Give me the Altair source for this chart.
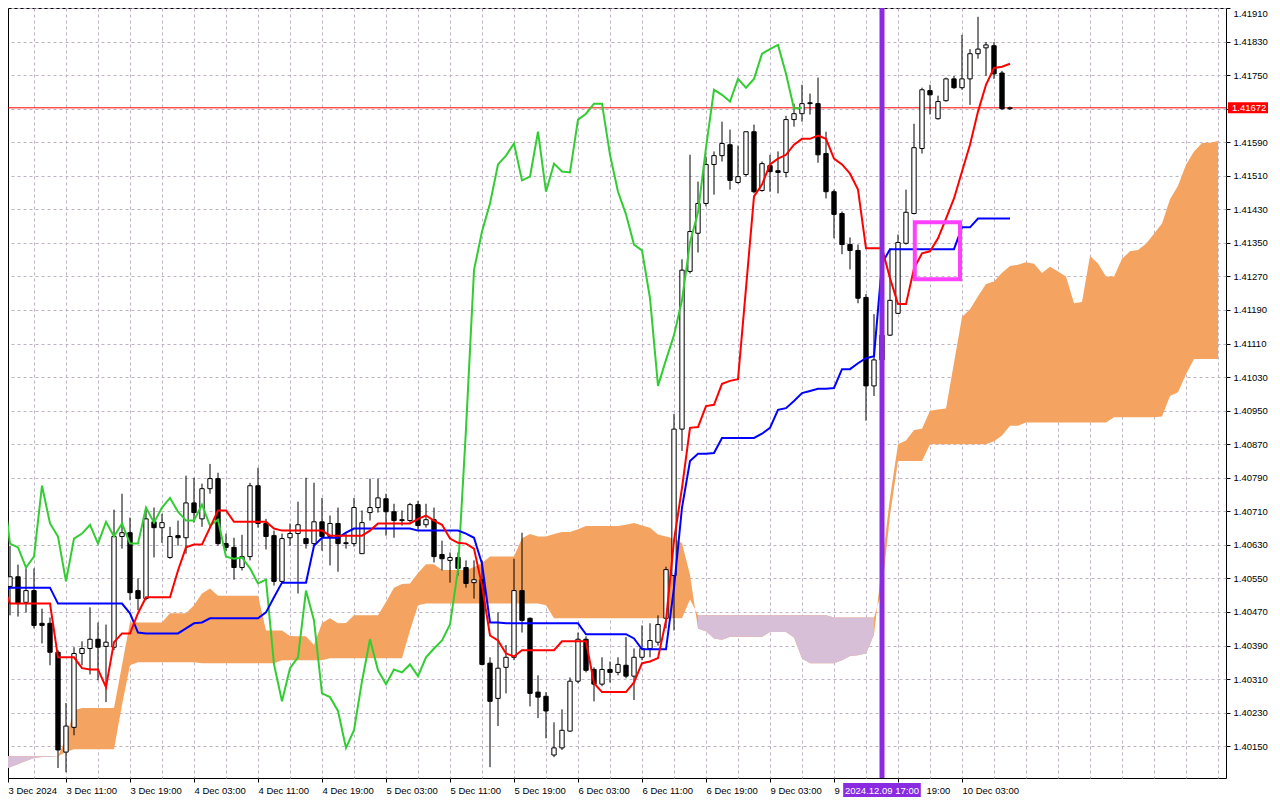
import json
import altair as alt
import pandas as pd

# ---------------- data (hourly candles, bar 0 = 3 Dec 2024 03:00) ----------------
open_ = [1.40474, 1.40531, 1.40554, 1.40493, 1.40521, 1.40443, 1.40443, 1.40374, 1.40136, 1.40195,
         1.40371, 1.40383, 1.40405, 1.40388, 1.40386, 1.40650, 1.40659, 1.40521, 1.40502, 1.40685,
         1.40671, 1.40600, 1.40652, 1.40647, 1.40730, 1.40692, 1.40764, 1.40788, 1.40633, 1.40624,
         1.40576, 1.40602, 1.40771, 1.40681, 1.40652, 1.40543, 1.40647, 1.40657, 1.40645, 1.40633,
         1.40685, 1.40650, 1.40681, 1.40635, 1.40633, 1.40609, 1.40707, 1.40719, 1.40740, 1.40709,
         1.40690, 1.40688, 1.40726, 1.40678, 1.40690, 1.40607, 1.40593, 1.40600, 1.40576, 1.40540,
         1.40547, 1.40348, 1.40264, 1.40338, 1.40362, 1.40521, 1.40455, 1.40279, 1.40269, 1.40129,
         1.40146, 1.40186, 1.40305, 1.40405, 1.40333, 1.40298, 1.40333, 1.40326, 1.40343, 1.40317,
         1.40362, 1.40383, 1.40398, 1.40455, 1.40557, 1.40906, 1.41282, 1.41373, 1.41444, 1.41537,
         1.41558, 1.41584, 1.41494, 1.41513, 1.41615, 1.41475, 1.41534, 1.41522, 1.41518, 1.41644,
         1.41658, 1.41684, 1.41682, 1.41563, 1.41472, 1.41420, 1.41346, 1.41332, 1.41220, 1.41009,
         1.41071, 1.41130, 1.41182, 1.41349, 1.41420, 1.41575, 1.41713, 1.41646, 1.41689, 1.41741,
         1.41720, 1.41741, 1.41801, 1.41815, 1.41820, 1.41755, 1.41670]

high = [1.40533, 1.40628, 1.40583, 1.40574, 1.40574, 1.40478, 1.40457, 1.40379, 1.40253, 1.40386,
        1.40400, 1.40481, 1.40445, 1.40440, 1.40714, 1.40752, 1.40695, 1.40550, 1.40719, 1.40719,
        1.40704, 1.40673, 1.40688, 1.40795, 1.40790, 1.40776, 1.40823, 1.40802, 1.40657, 1.40647,
        1.40654, 1.40778, 1.40814, 1.40692, 1.40664, 1.40657, 1.40681, 1.40733, 1.40790, 1.40778,
        1.40742, 1.40700, 1.40719, 1.40657, 1.40742, 1.40712, 1.40788, 1.40788, 1.40752, 1.40728,
        1.40712, 1.40730, 1.40735, 1.40728, 1.40719, 1.40640, 1.40612, 1.40612, 1.40593, 1.40593,
        1.40593, 1.40362, 1.40469, 1.40391, 1.40597, 1.40659, 1.40457, 1.40319, 1.40279, 1.40207,
        1.40238, 1.40314, 1.40421, 1.40412, 1.40338, 1.40362, 1.40352, 1.40362, 1.40410, 1.40383,
        1.40438, 1.40443, 1.40462, 1.40578, 1.40942, 1.41311, 1.41560, 1.41496, 1.41556, 1.41568,
        1.41639, 1.41620, 1.41582, 1.41615, 1.41632, 1.41544, 1.41560, 1.41568, 1.41653, 1.41682,
        1.41727, 1.41706, 1.41744, 1.41615, 1.41477, 1.41425, 1.41363, 1.41346, 1.41228, 1.41180,
        1.41140, 1.41337, 1.41370, 1.41477, 1.41634, 1.41720, 1.41727, 1.41701, 1.41744, 1.41748,
        1.41846, 1.41812, 1.41889, 1.41829, 1.41829, 1.41760, 1.41675]

low = [1.40462, 1.40462, 1.40459, 1.40469, 1.40431, 1.40395, 1.40343, 1.40098, 1.40088, 1.40176,
       1.40343, 1.40321, 1.40307, 1.40255, 1.40379, 1.40621, 1.40498, 1.40474, 1.40498, 1.40600,
       1.40635, 1.40597, 1.40628, 1.40609, 1.40683, 1.40673, 1.40752, 1.40628, 1.40616, 1.40547,
       1.40569, 1.40593, 1.40671, 1.40619, 1.40533, 1.40538, 1.40628, 1.40514, 1.40621, 1.40628,
       1.40616, 1.40581, 1.40566, 1.40621, 1.40626, 1.40609, 1.40688, 1.40707, 1.40652, 1.40647,
       1.40676, 1.40683, 1.40664, 1.40671, 1.40588, 1.40569, 1.40540, 1.40557, 1.40528, 1.40502,
       1.40343, 1.40100, 1.40198, 1.40276, 1.40355, 1.40421, 1.40245, 1.40217, 1.40169, 1.40124,
       1.40141, 1.40184, 1.40300, 1.40326, 1.40257, 1.40293, 1.40302, 1.40319, 1.40312, 1.40260,
       1.40355, 1.40362, 1.40390, 1.40431, 1.40426, 1.40854, 1.41277, 1.41327, 1.41437, 1.41465,
       1.41544, 1.41477, 1.41491, 1.41508, 1.41468, 1.41472, 1.41472, 1.41468, 1.41506, 1.41627,
       1.41639, 1.41656, 1.41541, 1.41456, 1.41361, 1.41323, 1.41287, 1.41206, 1.40926, 1.40985,
       1.41056, 1.41128, 1.41182, 1.41346, 1.41418, 1.41563, 1.41656, 1.41644, 1.41687, 1.41717,
       1.41715, 1.41679, 1.41789, 1.41748, 1.41741, 1.41667, 1.41667]

close = [1.40514, 1.40554, 1.40490, 1.40521, 1.40438, 1.40438, 1.40374, 1.40141, 1.40198, 1.40371,
         1.40383, 1.40405, 1.40386, 1.40398, 1.40650, 1.40659, 1.40516, 1.40502, 1.40692, 1.40671,
         1.40683, 1.40650, 1.40647, 1.40730, 1.40707, 1.40764, 1.40788, 1.40633, 1.40624, 1.40576,
         1.40602, 1.40771, 1.40681, 1.40650, 1.40543, 1.40645, 1.40657, 1.40678, 1.40633, 1.40685,
         1.40650, 1.40681, 1.40633, 1.40633, 1.40719, 1.40683, 1.40719, 1.40742, 1.40709, 1.40688,
         1.40688, 1.40726, 1.40676, 1.40690, 1.40602, 1.40597, 1.40600, 1.40574, 1.40538, 1.40547,
         1.40345, 1.40257, 1.40336, 1.40362, 1.40521, 1.40450, 1.40276, 1.40267, 1.40234, 1.40146,
         1.40188, 1.40305, 1.40405, 1.40331, 1.40298, 1.40333, 1.40326, 1.40345, 1.40317, 1.40362,
         1.40383, 1.40402, 1.40440, 1.40571, 1.40906, 1.41285, 1.41377, 1.41444, 1.41537, 1.41558,
         1.41587, 1.41499, 1.41508, 1.41615, 1.41472, 1.41539, 1.41520, 1.41518, 1.41644, 1.41658,
         1.41682, 1.41682, 1.41560, 1.41472, 1.41418, 1.41346, 1.41332, 1.41218, 1.41009, 1.41071,
         1.41130, 1.41213, 1.41351, 1.41423, 1.41577, 1.41715, 1.41703, 1.41687, 1.41741, 1.41720,
         1.41741, 1.41801, 1.41812, 1.41822, 1.41753, 1.41670, 1.41672]

tenkan = [1.40538, 1.40490, 1.40490, 1.40490, 1.40490, 1.40490, 1.40490, 1.40362, 1.40362, 1.40362,
          1.40336, 1.40333, 1.40333, 1.40291, 1.40398, 1.40419, 1.40419, 1.40467, 1.40505, 1.40505,
          1.40505, 1.40505, 1.40569, 1.40624, 1.40631, 1.40631, 1.40671, 1.40712, 1.40712, 1.40685,
          1.40685, 1.40685, 1.40685, 1.40685, 1.40669, 1.40664, 1.40664, 1.40664, 1.40664, 1.40664,
          1.40664, 1.40652, 1.40652, 1.40652, 1.40652, 1.40652, 1.40664, 1.40681, 1.40681, 1.40681,
          1.40681, 1.40681, 1.40692, 1.40700, 1.40688, 1.40678, 1.40645, 1.40635, 1.40633, 1.40621,
          1.40533, 1.40414, 1.40402, 1.40371, 1.40364, 1.40379, 1.40379, 1.40379, 1.40379, 1.40379,
          1.40400, 1.40400, 1.40400, 1.40400, 1.40300, 1.40279, 1.40279, 1.40279, 1.40279, 1.40302,
          1.40348, 1.40352, 1.40360, 1.40450, 1.40640, 1.40766, 1.40909, 1.40911, 1.40961, 1.40964,
          1.41014, 1.41021, 1.41025, 1.41242, 1.41461, 1.41489, 1.41537, 1.41551, 1.41560, 1.41584,
          1.41598, 1.41598, 1.41606, 1.41598, 1.41551, 1.41537, 1.41515, 1.41477, 1.41337, 1.41337,
          1.41337, 1.41266, 1.41204, 1.41204, 1.41289, 1.41325, 1.41330, 1.41361, 1.41408, 1.41456,
          1.41520, 1.41584, 1.41663, 1.41727, 1.41767, 1.41770, 1.41777]

kijun = [1.40514, 1.40528, 1.40528, 1.40528, 1.40528, 1.40528, 1.40528, 1.40490, 1.40490, 1.40490,
         1.40490, 1.40490, 1.40490, 1.40490, 1.40490, 1.40490, 1.40467, 1.40421, 1.40419, 1.40419,
         1.40419, 1.40419, 1.40419, 1.40431, 1.40443, 1.40445, 1.40455, 1.40455, 1.40455, 1.40455,
         1.40455, 1.40455, 1.40455, 1.40469, 1.40505, 1.40540, 1.40540, 1.40540, 1.40540, 1.40628,
         1.40647, 1.40647, 1.40647, 1.40659, 1.40669, 1.40669, 1.40669, 1.40669, 1.40669, 1.40669,
         1.40669, 1.40669, 1.40664, 1.40664, 1.40664, 1.40664, 1.40664, 1.40664, 1.40657, 1.40647,
         1.40585, 1.40445, 1.40445, 1.40443, 1.40443, 1.40443, 1.40443, 1.40443, 1.40443, 1.40443,
         1.40443, 1.40443, 1.40443, 1.40417, 1.40417, 1.40417, 1.40417, 1.40417, 1.40417, 1.40407,
         1.40381, 1.40381, 1.40381, 1.40381, 1.40528, 1.40719, 1.40830, 1.40847, 1.40847, 1.40849,
         1.40885, 1.40885, 1.40885, 1.40885, 1.40885, 1.40895, 1.40909, 1.40952, 1.40956, 1.40973,
         1.40992, 1.40997, 1.41002, 1.41002, 1.41004, 1.41049, 1.41049, 1.41063, 1.41075, 1.41080,
         1.41301, 1.41335, 1.41335, 1.41335, 1.41335, 1.41335, 1.41335, 1.41335, 1.41335, 1.41335,
         1.41387, 1.41387, 1.41408, 1.41408, 1.41408, 1.41408, 1.41408]

# Senkou span A / B as drawn (already displaced 26 bars ahead)
span_a = [1.40093, 1.40100, 1.40107, 1.40115, 1.40122, 1.40124, 1.40124, 1.40126, 1.40169, 1.40236,
          1.40241, 1.40241, 1.40241, 1.40241, 1.40241, 1.40343, 1.40445, 1.40445, 1.40445, 1.40445,
          1.40445, 1.40467, 1.40467, 1.40467, 1.40486, 1.40514, 1.40526, 1.40509, 1.40509, 1.40509,
          1.40509, 1.40509, 1.40509, 1.40426, 1.40426, 1.40426, 1.40413, 1.40412, 1.40412, 1.40391,
          1.40444, 1.40455, 1.40443, 1.40444, 1.40462, 1.40462, 1.40462, 1.40462, 1.40494, 1.40528,
          1.40537, 1.40538, 1.40563, 1.40584, 1.40584, 1.40570, 1.40570, 1.40570, 1.40570, 1.40577,
          1.40587, 1.40602, 1.40602, 1.40602, 1.40602, 1.40646, 1.40656, 1.40650, 1.40650, 1.40656,
          1.40661, 1.40661, 1.40667, 1.40675, 1.40675, 1.40675, 1.40675, 1.40675, 1.40678, 1.40682,
          1.40676, 1.40671, 1.40655, 1.40650, 1.40645, 1.40634, 1.40559, 1.40430, 1.40424, 1.40407,
          1.40404, 1.40411, 1.40411, 1.40411, 1.40411, 1.40411, 1.40422, 1.40422, 1.40422, 1.40409,
          1.40359, 1.40348, 1.40348, 1.40348, 1.40348, 1.40355, 1.40365, 1.40367, 1.40371, 1.40416,
          1.40584, 1.40743, 1.40870, 1.40879, 1.40904, 1.40907, 1.40950, 1.40953, 1.40955, 1.41064,
          1.41173, 1.41192, 1.41223, 1.41252, 1.41258, 1.41279, 1.41295, 1.41298, 1.41304, 1.41300,
          1.41278, 1.41293, 1.41282, 1.41270, 1.41206, 1.41209, 1.41319, 1.41301, 1.41270, 1.41270,
          1.41312, 1.41330, 1.41333, 1.41348, 1.41372, 1.41396, 1.41454, 1.41486, 1.41536, 1.41568,
          1.41588, 1.41589, 1.41593]

span_b = [1.40126, 1.40126, 1.40126, 1.40126, 1.40126, 1.40126, 1.40126, 1.40126, 1.40136, 1.40143,
          1.40143, 1.40143, 1.40143, 1.40143, 1.40143, 1.40248, 1.40343, 1.40350, 1.40350, 1.40350,
          1.40350, 1.40350, 1.40350, 1.40350, 1.40350, 1.40348, 1.40348, 1.40348, 1.40348, 1.40348,
          1.40348, 1.40348, 1.40348, 1.40348, 1.40348, 1.40355, 1.40355, 1.40355, 1.40355, 1.40355,
          1.40355, 1.40360, 1.40360, 1.40360, 1.40360, 1.40360, 1.40360, 1.40360, 1.40360, 1.40360,
          1.40360, 1.40426, 1.40486, 1.40490, 1.40490, 1.40490, 1.40490, 1.40490, 1.40490, 1.40490,
          1.40490, 1.40490, 1.40490, 1.40490, 1.40490, 1.40490, 1.40490, 1.40490, 1.40486, 1.40455,
          1.40455, 1.40455, 1.40455, 1.40455, 1.40455, 1.40455, 1.40455, 1.40455, 1.40455, 1.40455,
          1.40455, 1.40455, 1.40455, 1.40455, 1.40455, 1.40455, 1.40500, 1.40462, 1.40462, 1.40462,
          1.40462, 1.40462, 1.40462, 1.40462, 1.40462, 1.40462, 1.40462, 1.40462, 1.40462, 1.40462,
          1.40462, 1.40462, 1.40462, 1.40462, 1.40457, 1.40457, 1.40457, 1.40457, 1.40457, 1.40457,
          1.40521, 1.40700, 1.40830, 1.40830, 1.40830, 1.40830, 1.40870, 1.40870, 1.40870, 1.40870,
          1.40870, 1.40870, 1.40870, 1.40870, 1.40877, 1.40891, 1.40914, 1.40914, 1.40922, 1.40922,
          1.40922, 1.40922, 1.40922, 1.40922, 1.40922, 1.40922, 1.40922, 1.40922, 1.40922, 1.40934,
          1.40934, 1.40934, 1.40934, 1.40934, 1.40934, 1.40936, 1.40985, 1.40994, 1.41037, 1.41073,
          1.41073, 1.41073, 1.41073]

y_ticks = [1.40150, 1.40230, 1.40310, 1.40390, 1.40470, 1.40550, 1.40630, 1.40710, 1.40790,
           1.40870, 1.40950, 1.41030, 1.41110, 1.41190, 1.41270, 1.41350, 1.41430, 1.41510,
           1.41590, 1.41670, 1.41750, 1.41830, 1.41910]

# time-axis labels every 8 bars; the two next to the marker show only what the marker leaves visible
x_labels = ["3 Dec 2024", "3 Dec 11:00", "3 Dec 19:00", "4 Dec 03:00", "4 Dec 11:00",
            "4 Dec 19:00", "5 Dec 03:00", "5 Dec 11:00", "5 Dec 19:00", "6 Dec 03:00",
            "6 Dec 11:00", "6 Dec 19:00", "9 Dec 03:00", "9", "19:00",
            "10 Dec 03:00"]

kumo_shift = 26
current_price = 1.41672
marker_bar = 110
marker_label = "2024.12.09 17:00"
highlight = {"i0": 114.1, "i1": 119.75, "p0": 1.41263, "p1": 1.41399}

# ---------------- styling ----------------
FONT = "Liberation Sans"
FS = 9.5
GRID = "#bdb3c4"
ORANGE = "#f4a460"
LILAC = "#d8bfd8"
PURPLE = "#8a2be2"
MAGENTA = "#ff40ff"
W, H = 1218, 770

# ---------------- frames ----------------
n = len(close)
candles = pd.DataFrame({"i": list(range(n)), "open": open_, "high": high, "low": low, "close": close})
candles["top"] = candles[["open", "close"]].max(axis=1)
candles["bot"] = candles[["open", "close"]].min(axis=1)
candles["bull"] = candles["close"] > candles["open"]
half_body = 0.27
candles["x0"] = candles["i"] - half_body
candles["x1"] = candles["i"] + half_body

lines = pd.DataFrame({"i": list(range(n)), "tenkan": tenkan, "kijun": kijun})
chik = pd.DataFrame({"i": [k - kumo_shift for k in range(kumo_shift, n)],
                     "chikou": close[kumo_shift:]})

cloud = pd.DataFrame({"i": list(range(len(span_a))), "a": span_a, "b": span_b})
bear = cloud["b"] >= cloud["a"]
cloud["run"] = (bear != bear.shift()).cumsum()
lilac = cloud[bear]

# ---------------- scales & axes ----------------
xs = alt.Scale(domain=[0.75, 153.0], nice=False, zero=False)
ys = alt.Scale(domain=[1.400742, 1.41910], nice=False, zero=False)

step = 8
last_lab = step * (len(x_labels) - 1)
labs = json.dumps(x_labels)
grid_vals = [0.75] + list(range(4, 153, 4))
tick_test = f"datum.value < 1 || (datum.value % {step} == 0 && datum.value <= {last_lab})"
x_axis = alt.Axis(
    title=None, values=grid_vals,
    labelExpr=(f"datum.value < 1 ? {labs}[0] : ((datum.value % {step} == 0 && datum.value <= {last_lab})"
               f" ? {labs}[datum.value / {step}] : '')"),
    grid=True, gridColor=GRID, gridDash=[3, 3], gridWidth=1,
    gridOpacity={"condition": {"test": "datum.value < 1", "value": 0}, "value": 1},
    tickOpacity={"condition": {"test": tick_test, "value": 1}, "value": 0},
    labelOffset={"condition": {"test": "datum.value == 112", "value": 28}, "value": 0},
    tickSize=4, tickColor="black", domain=False,
    labelAlign="left", labelBaseline="top", labelPadding=3, labelFlush=False,
    labelOverlap=False, labelFont=FONT, labelFontSize=FS, labelColor="black",
)
y_axis = alt.Axis(
    title=None, orient="right", values=y_ticks, format=".5f",
    grid=True, gridColor=GRID, gridDash=[3, 3], gridWidth=1,
    tickSize=4, tickColor="black", domain=False, labelPadding=3,
    labelFlush=True, labelOverlap=False, labelFont=FONT, labelFontSize=FS, labelColor="black",
)


def X(f):
    return alt.X(f, scale=xs, axis=x_axis)


def Y(f):
    return alt.Y(f, scale=ys, axis=y_axis)


# ---------------- layers ----------------
cloud_layer = alt.Chart(cloud).mark_area(color=ORANGE, clip=True).encode(
    x=X("i:Q"), y=Y("a:Q"), y2="b:Q")
lilac_layer = alt.Chart(lilac).mark_area(color=LILAC, clip=True).encode(
    x=X("i:Q"), y=Y("a:Q"), y2="b:Q", detail="run:N")

price_line = alt.Chart(pd.DataFrame({"p": [current_price]})).mark_rule(
    color="#ff0000", strokeWidth=1).encode(y=Y("p:Q"))

wicks = alt.Chart(candles).mark_rule(color="black", strokeWidth=1, clip=True).encode(
    x=X("i:Q"), y=Y("high:Q"), y2="low:Q")
bodies = alt.Chart(candles).mark_rect(stroke="black", strokeWidth=1, clip=True).encode(
    x=X("x0:Q"), x2="x1:Q", y=Y("top:Q"), y2="bot:Q",
    fill=alt.condition("datum.bull", alt.value("white"), alt.value("black")))

chikou_line = alt.Chart(chik).mark_line(color="#32cd32", strokeWidth=2, clip=True).encode(
    x=X("i:Q"), y=Y("chikou:Q"))
kijun_line = alt.Chart(lines).mark_line(color="#0000ff", strokeWidth=2, clip=True).encode(
    x=X("i:Q"), y=Y("kijun:Q"))
tenkan_line = alt.Chart(lines).mark_line(color="#ff0000", strokeWidth=2, clip=True).encode(
    x=X("i:Q"), y=Y("tenkan:Q"))

mk = pd.DataFrame({"i": [marker_bar], "label": [marker_label]})
vline = alt.Chart(mk).mark_rule(color=PURPLE, strokeWidth=5).encode(x=X("i:Q"))

hbox = alt.Chart(pd.DataFrame([highlight])).mark_rect(
    filled=False, color=MAGENTA, strokeWidth=4, clip=True).encode(
    x=X("i0:Q"), x2="i1:Q", y=Y("p0:Q"), y2="p1:Q")

mk_box = alt.Chart(mk).transform_calculate(
    x0="datum.i - 4.85", x1="datum.i + 4.85").mark_rect(color=PURPLE).encode(
    x=X("x0:Q"), x2="x1:Q", y=alt.value(H + 5), y2=alt.value(H + 19))
mk_text = alt.Chart(mk).mark_text(
    color="white", font=FONT, fontSize=FS, align="center", baseline="middle").encode(
    x=X("i:Q"), y=alt.value(H + 12.5), text="label:N")

pl = pd.DataFrame({"p": [current_price], "label": [f"{current_price:.5f}"]})
pl_box = alt.Chart(pl).transform_calculate(
    p0="datum.p - 0.00013", p1="datum.p + 0.00013").mark_rect(color="#ff0000").encode(
    x=alt.value(W + 2), x2=alt.value(W + 42), y=Y("p0:Q"), y2="p1:Q")
pl_text = alt.Chart(pl).mark_text(
    color="white", font=FONT, fontSize=FS, align="left", baseline="middle").encode(
    x=alt.value(W + 6), y=Y("p:Q"), text="label:N")

chart = alt.layer(
    cloud_layer, lilac_layer, price_line, wicks, bodies,
    chikou_line, kijun_line, tenkan_line, vline, hbox,
    mk_box, mk_text, pl_box, pl_text,
).properties(
    width=W, height=H,
    padding={"left": 0, "top": 0, "right": 46, "bottom": 20},
    autosize=alt.AutoSizeParams(type="none"),
    background="white",
).configure_view(stroke="black", strokeWidth=1)

chart.save("out.html", embed_options={"renderer": "svg", "actions": False})
